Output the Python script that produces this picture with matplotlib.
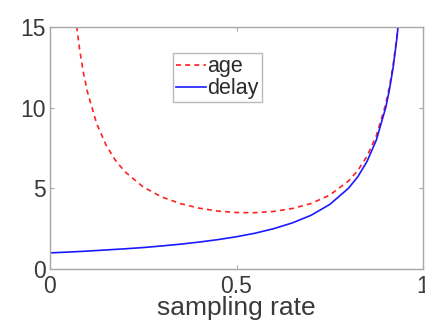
import matplotlib
matplotlib.use("Agg")
import matplotlib.pyplot as plt

plt.rcParams['font.family'] = ['Liberation Sans', 'DejaVu Sans']

# delay curve
x_delay = [0.0, 0.05, 0.1, 0.15, 0.2, 0.25, 0.3, 0.35, 0.4, 0.45, 0.5, 0.55, 0.6,
           0.65, 0.7, 0.75, 0.8, 0.825, 0.85, 0.875, 0.9, 0.91, 0.92, 0.93, 0.94]
delay = [1.0, 1.05, 1.11, 1.18, 1.25, 1.33, 1.43, 1.54, 1.67, 1.82, 2.0, 2.22, 2.5,
         2.86, 3.33, 4.0, 5.0, 5.71, 6.67, 8.0, 10.0, 11.11, 12.5, 14.29, 16.67]

# age curve
x_age = [0.06, 0.07, 0.08, 0.09, 0.1, 0.125, 0.15, 0.175, 0.2, 0.25, 0.3, 0.35, 0.4,
         0.45, 0.5, 0.55, 0.6, 0.65, 0.7, 0.75, 0.8, 0.825, 0.85, 0.875, 0.9,
         0.91, 0.92, 0.93, 0.94]
age = [17.67, 15.29, 13.51, 12.12, 11.01, 9.02, 7.69, 6.75, 6.05, 5.08, 4.46, 4.05, 3.77,
       3.59, 3.5, 3.49, 3.57, 3.75, 4.06, 4.58, 5.45, 6.10, 6.99, 8.27, 10.21,
       11.30, 12.67, 14.43, 16.79]

xticks = [0, 0.5, 1]
xtick_labels = ["0", "0.5", "1"]
yticks = [0, 5, 10, 15]

fig = plt.figure(figsize=(4.25, 3.31), dpi=100)
ax = fig.add_axes([50/425, 62/331, 373/425, 242/331])

ax.plot(x_age, age, color="#ff2020", linestyle=(0, (3, 2.5)), linewidth=1.2, label="age")
ax.plot(x_delay, delay, color="#1a1aff", linewidth=1.2, label="delay")

ax.set_xlim(0, 1)
ax.set_ylim(0, 15)
ax.set_xticks(xticks)
ax.set_xticklabels(xtick_labels)
ax.set_yticks(yticks)

for s in ax.spines.values():
    s.set_color("#a8a8a8")
    s.set_linewidth(1.0)
ax.tick_params(direction="in", length=3, color="#a8a8a8", labelsize=16.5,
               labelcolor="#3a3a3a", top=True, right=True, pad=3)
ax.tick_params(axis="x", pad=4)
ax.set_xlabel("sampling rate", fontsize=19, color="#3a3a3a", labelpad=-1)

# legend
leg = ax.legend(loc="upper left", bbox_to_anchor=(0.330, 0.893), borderaxespad=0,
                fancybox=False, fontsize=15.5, handlelength=1.4, handletextpad=0.05,
                borderpad=0.15, labelspacing=0.05)
leg.get_frame().set_edgecolor("#a8a8a8")
leg.get_frame().set_linewidth(1.0)
for t in leg.get_texts():
    t.set_color("#2a2a2a")

fig.savefig("out.png", dpi=100)
